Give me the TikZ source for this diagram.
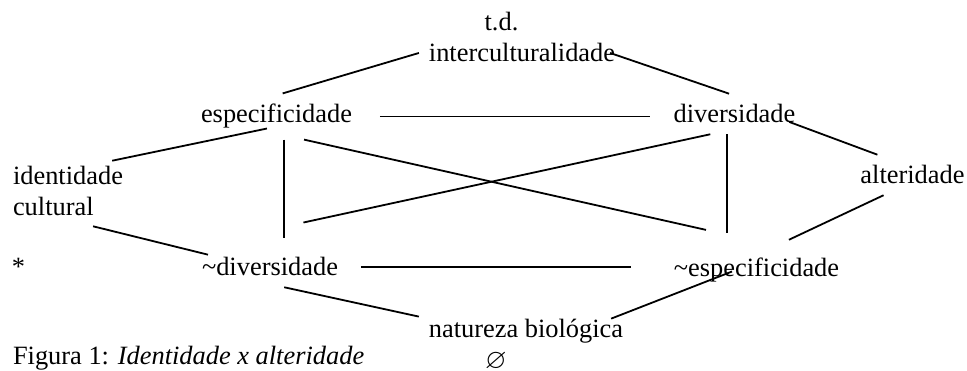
\documentclass[tikz,border=0pt]{standalone}
\usepackage{fontspec}
\usepackage{amssymb}
\setmainfont{Liberation Serif}

\begin{document}
\begin{tikzpicture}[x=1pt, y=-1pt,
every node/.style={font=\fontsize{26.4}{31}\selectfont},
lbl/.style={inner xsep=10pt, inner ysep=11pt, outer sep=0pt},
link/.style={line width=1.8pt}]
\useasboundingbox (0,0) rectangle (967,371);
% terms
\node [lbl, anchor=base] (td) at (501.5,31) {t.d.};
\node [lbl, anchor=base] (inter) at (522,62) {interculturalidade};
\node [lbl, anchor=base] (esp) at (276.5,123) {especificidade};
\node [lbl, anchor=base] (div) at (734.5,123) {diversidade};
\node [lbl, align=left] (ident) at (68,190.5) {identidade\\cultural};
\node [lbl, anchor=base] (alt) at (912.5,184) {alteridade};
\node [lbl, anchor=base] (star) at (18.5,276) {*};
\node [lbl, anchor=base] (ndiv) at (270,276) {\textasciitilde diversidade};
\node [lbl, anchor=base] (nesp) at (756.5,277) {\textasciitilde especificidade};
\node [lbl, anchor=base] (nat) at (526,338) {natureza biológica};
\node [lbl, anchor=base west, inner sep=0pt] (cap) at (13,365) {Figura 1: \textit{Identidade x alteridade}};
\node [lbl, anchor=base, inner sep=0pt] (empty) at (496,369) {\scalebox{1.05}{$\varnothing$}};
% links
\draw[link] (esp.75) -- (inter.west);
\draw[link] ([shift={(-15,0)}]inter.east) -- (div.105);
\draw[link, shorten <=18pt, shorten >=14pt] (esp.east) -- (esp.east -| div.west);
\draw[link] ([shift={(-16,8)}]div.east) -- (alt.150);
\draw[link] ([shift={(0,6)}]ident.39) -- ([shift={(-9.5,12)}]esp.center);
\draw[link, shorten >=9pt] (esp.-72) -- (esp.-72 |- ndiv.north);
\draw[link, shorten >=14pt] (div.-110) -- (div.-110 |- nesp.north);
\draw[link, shorten >=80pt] (esp.-40) -- (nesp.40);
\draw[link, shorten >=114pt] (div.-140) -- (ndiv.north west);
\draw[link] (ident.-55) -- ([shift={(16,8)}]ndiv.north west);
\draw[link, shorten <=13pt, shorten >=33pt] (ndiv.east) -- (ndiv.east -| nesp.west);
\draw[link, shorten >=18pt] (alt.-145) -- (nesp.55);
\draw[link] (ndiv.-55) -- (nat.172.5);
\draw[link] ([shift={(-22,10)}]nat.north east) -- ([shift={(-24.5,1)}]nesp.center);
\end{tikzpicture}
\end{document}
